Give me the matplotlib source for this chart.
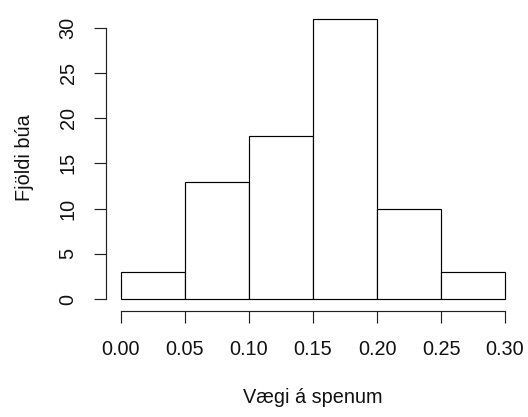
import matplotlib
matplotlib.use("Agg")
import matplotlib.pyplot as plt
import numpy as np

bin_edges = [0.00, 0.05, 0.10, 0.15, 0.20, 0.25, 0.30]
counts = [3, 13, 18, 31, 10, 3]
x_ticks = [0.00, 0.05, 0.10, 0.15, 0.20, 0.25, 0.30]
x_tick_labels = ["0.00", "0.05", "0.10", "0.15", "0.20", "0.25", "0.30"]
y_ticks = [0, 5, 10, 15, 20, 25, 30]
x_label = "Vægi á spenum"
y_label = "Fjöldi búa"

W, H = 528, 417
plt.rcParams['font.family'] = ['Liberation Sans', 'DejaVu Sans']
fig = plt.figure(figsize=(W / 100, H / 100), dpi=100)
fig.patch.set_facecolor("white")

left, right, top, bottom = 105.6, 520.4, 7.3, 310.5
ax = fig.add_axes([left / W, (H - bottom) / H, (right - left) / W, (bottom - top) / H])

edges = np.array(bin_edges)
widths = np.diff(edges)
ax.bar(edges[:-1], counts, width=widths, align="edge", facecolor="white",
       edgecolor="black", linewidth=0.85)

xr = 0.30 * 0.04
yr = 31 * 0.04
ax.set_xlim(0 - xr, 0.30 + xr)
ax.set_ylim(0 - yr, 31 + yr)

for s in ["top", "right"]:
    ax.spines[s].set_visible(False)
ax.spines["left"].set_bounds(0, 30)
ax.spines["bottom"].set_bounds(0, 0.30)
for s in ["left", "bottom"]:
    ax.spines[s].set_linewidth(0.85)
    ax.spines[s].set_color("#222222")

ax.set_xticks(x_ticks)
ax.set_xticklabels(x_tick_labels)
ax.set_yticks(y_ticks)
ax.set_yticklabels([str(v) for v in y_ticks], rotation=90, va="center")
ax.tick_params(axis="both", length=8.6, width=0.85, color="#222222",
               labelsize=14.3, labelcolor="#111111")
ax.tick_params(axis="x", pad=12.5)
ax.tick_params(axis="y", pad=11.5)

fig.text(312.5 / W, (H - 403) / H, x_label, ha="center", va="baseline",
         fontsize=14.3, color="#111111")
fig.text(24 / W, (H - 158) / H, y_label, ha="center", va="center",
         rotation=90, fontsize=14.3, color="#111111")

fig.savefig("out.png", dpi=100, facecolor="white")
